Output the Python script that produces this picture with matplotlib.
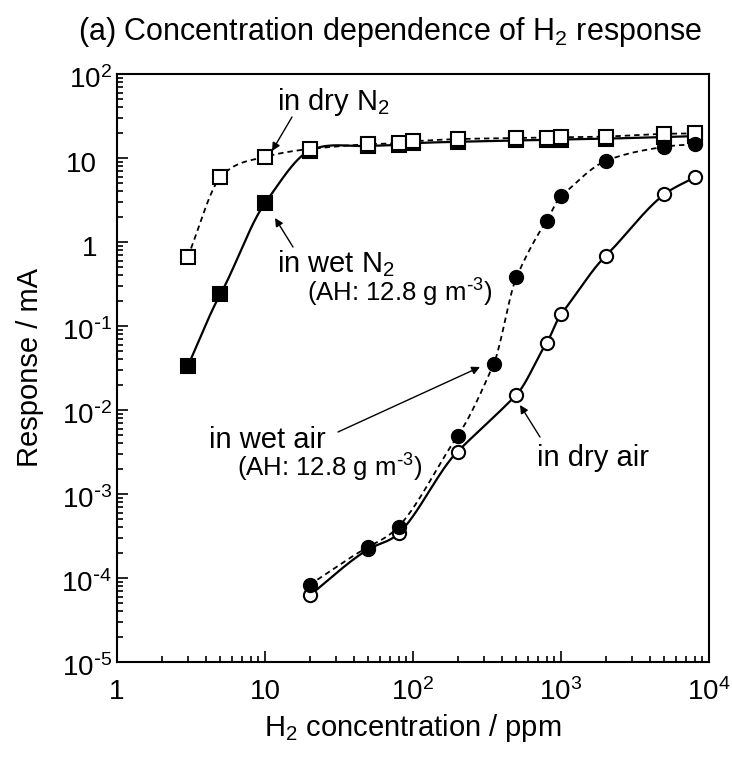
import numpy as np
import matplotlib
matplotlib.use("Agg")
import matplotlib.pyplot as plt
import matplotlib.transforms as mtransforms
from matplotlib.ticker import LogLocator, FixedLocator, FixedFormatter, NullFormatter

plt.rcParams['font.family'] = ['Liberation Sans', 'DejaVu Sans']
plt.rcParams['mathtext.default'] = 'regular'

# H2 concentration (ppm) and sensor response (mA)
conc_n2 = [3, 5, 10, 20, 50, 80, 100, 200, 500, 800, 1000, 2000, 5000, 8000]
dry_n2 = [0.66, 5.9, 10.3, 12.8, 14.6, 15.0, 15.8, 16.8, 17.3, 17.5, 17.6, 18.0, 19.4, 19.6]
wet_n2 = [0.033, 0.24, 2.9, 12.2, 13.9, 14.3, 15.0, 15.6, 16.2, 16.4, 16.6, 17.0, 17.8, 18.2]

conc_air = [20, 50, 80, 200, 350, 500, 800, 1000, 2000, 5000, 8000]
wet_air = [8.3e-5, 2.35e-4, 4.1e-4, 4.9e-3, 0.035, 0.38, 1.8, 3.5, 9.2, 13.6, 14.6]
dry_air = [6.2e-5, 2.2e-4, 3.4e-4, 3.2e-3, None, 0.0152, 0.063, 0.138, 0.68, 3.7, 5.9]

xticks = [1, 10, 1e2, 1e3, 1e4]
xticklabels = ['1', '10', '10$^2$', '10$^3$', '10$^4$']
yticks = [1e-5, 1e-4, 1e-3, 1e-2, 1e-1, 1, 10, 1e2]
yticklabels = [r'10$^{\text{-}5}$', r'10$^{\text{-}4}$', r'10$^{\text{-}3}$', r'10$^{\text{-}2}$',
               r'10$^{\text{-}1}$', '1', '10', '10$^2$']
ah_label = r'(AH: 12.8 g m$^{\text{-}3}$)'

W, H = 732, 760


def smooth(xs, ys, n=300, tension=0.85):
    # cardinal spline through the points in log-log space
    pts = [(a, b) for a, b in zip(xs, ys) if b is not None]
    x = np.log10([p[0] for p in pts])
    y = np.log10([p[1] for p in pts])
    h = np.diff(x)
    d = np.diff(y) / h
    m = np.zeros(len(x))
    m[0], m[-1] = d[0], d[-1]
    for k in range(1, len(x) - 1):
        m[k] = tension * (y[k + 1] - y[k - 1]) / (x[k + 1] - x[k - 1])
    xn = np.linspace(x[0], x[-1], n)
    idx = np.clip(np.searchsorted(x, xn) - 1, 0, len(x) - 2)
    t = (xn - x[idx]) / h[idx]
    h00 = 2 * t**3 - 3 * t**2 + 1
    h10 = t**3 - 2 * t**2 + t
    h01 = -2 * t**3 + 3 * t**2
    h11 = t**3 - t**2
    yn = h00 * y[idx] + h10 * h[idx] * m[idx] + h01 * y[idx + 1] + h11 * h[idx] * m[idx + 1]
    return 10**xn, 10**yn


def px(x, y):
    # pixel position (from top-left) to figure fraction
    return x / W, 1 - y / H


fig = plt.figure(figsize=(W / 100, H / 100), dpi=100)
ax = fig.add_axes([117 / W, 1 - 662 / H, (709 - 117) / W, (662 - 74) / H])
ax.set_xscale('log')
ax.set_yscale('log')
ax.set_xlim(1, 1e4)
ax.set_ylim(1e-5, 1e2)

dash = (0, (3.0, 2.2))
ax.plot(*smooth(conc_n2, wet_n2), color='black', lw=1.6, zorder=2)
ax.plot(*smooth(conc_n2, dry_n2), color='black', lw=1.3, linestyle=dash, zorder=2)
ax.plot(*smooth(conc_air, dry_air), color='black', lw=1.6, zorder=2)
ax.plot(*smooth(conc_air, wet_air), color='black', lw=1.3, linestyle=dash, zorder=2)

ax.plot(conc_n2, wet_n2, 's', ms=9.5, mfc='black', mec='black', mew=1.5, zorder=3)
ax.plot(conc_n2, dry_n2, 's', ms=9.5, mfc='white', mec='black', mew=1.5, zorder=4)
da_x = [a for a, b in zip(conc_air, dry_air) if b is not None]
da_y = [b for b in dry_air if b is not None]
ax.plot(da_x, da_y, 'o', ms=9.5, mfc='white', mec='black', mew=1.5, zorder=3)
ax.plot(conc_air, wet_air, 'o', ms=9.5, mfc='black', mec='black', mew=1.5, zorder=4)

# axes styling: inward ticks on left and bottom only
for s in ax.spines.values():
    s.set_linewidth(1.5)
ax.xaxis.set_major_locator(FixedLocator(xticks))
ax.xaxis.set_major_formatter(FixedFormatter(xticklabels))
ax.yaxis.set_major_locator(FixedLocator(yticks))
ax.yaxis.set_major_formatter(NullFormatter())
ax.xaxis.set_minor_locator(LogLocator(base=10, subs=np.arange(2, 10), numticks=20))
ax.yaxis.set_minor_locator(LogLocator(base=10, subs=np.arange(2, 10), numticks=20))
ax.xaxis.set_minor_formatter(NullFormatter())
ax.yaxis.set_minor_formatter(NullFormatter())
ax.tick_params(which='both', direction='in', top=False, right=False, width=1.2)
ax.tick_params(which='major', length=8, labelsize=20)
ax.tick_params(which='minor', length=4)
ax.tick_params(axis='x', which='major', pad=12)

# y tick labels: the "10" base lines up, superscripts stick out to the right
ytrans = mtransforms.offset_copy(ax.get_yaxis_transform(), fig=fig, y=-14, units='dots')
for v, lab in zip(yticks, yticklabels):
    right = 112 if '^' in lab else 97
    ax.text((right - 117) / (709 - 117), v, lab, transform=ytrans, fontsize=20,
            ha='right', va='baseline', clip_on=False)

ax.set_xlabel('H$_2$ concentration / ppm', fontsize=21, labelpad=4)
fig.text(*px(30, 368), 'Response / mA', fontsize=21, rotation=90, ha='center', va='center')
fig.text(*px(390, 32), '(a) Concentration dependence of H$_2$ response', fontsize=22,
         ha='center', va='center')

arrow = dict(arrowstyle='-|>', color='black', lw=1.0, mutation_scale=12, shrinkA=0, shrinkB=0)
fs = 21
fs_ah = 18.5
fig.text(*px(277, 110), 'in dry N$_2$', fontsize=fs, va='baseline')
ax.annotate('', xy=px(272, 151), xytext=px(292, 117), xycoords='figure fraction',
            textcoords='figure fraction', arrowprops=arrow)
fig.text(*px(277, 272), 'in wet N$_2$', fontsize=fs, va='baseline')
fig.text(*px(307, 302), ah_label, fontsize=fs_ah, va='baseline')
ax.annotate('', xy=px(275, 218), xytext=px(293, 247), xycoords='figure fraction',
            textcoords='figure fraction', arrowprops=arrow)
fig.text(*px(209, 448), 'in wet air', fontsize=fs, va='baseline')
fig.text(*px(237, 477), ah_label, fontsize=fs_ah, va='baseline')
ax.annotate('', xy=px(480, 367), xytext=px(338, 432), xycoords='figure fraction',
            textcoords='figure fraction', arrowprops=arrow)
fig.text(*px(537, 466), 'in dry air', fontsize=fs, va='baseline')
ax.annotate('', xy=px(520, 405), xytext=px(540, 437), xycoords='figure fraction',
            textcoords='figure fraction', arrowprops=arrow)

fig.savefig('out.png', dpi=100)
